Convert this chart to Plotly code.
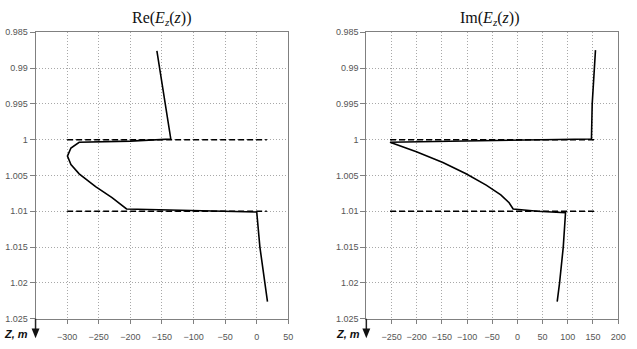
import plotly.graph_objects as go

# Re(Ez(z)) curve
re_x = [-158, -152, -145, -139, -136, -200, -281, -294, -299.5, -294, -281, -255, -229, -206, -150, -50, 0, 5, 12.5, 17]
re_z = [0.9876, 0.991, 0.995, 0.998, 0.9999, 1.0002, 1.00036, 1.00117, 1.0023, 1.00347, 1.00477, 1.00657, 1.0081, 1.00967, 1.0098, 1.0100, 1.0101, 1.015, 1.02, 1.0226]
# Im(Ez(z)) curve
im_x = [155, 151, 148.5, 147, -50, -253, -200.6, -148, -102, -62, -33, -16.5, -8.5, 40, 95.5, 91, 83.7, 79]
im_z = [0.9875, 0.992, 0.995, 0.9999, 1.0001, 1.00036, 1.0017, 1.0032, 1.00477, 1.00635, 1.0077, 1.0088, 1.00967, 1.0100, 1.0102, 1.015, 1.02, 1.0226]
# boundaries (dashed)
bound_z = [1.0, 1.01]
re_bound_x = [-300, 16]
im_bound_x = [-253, 155]

z_ticks = [0.985, 0.99, 0.995, 1.0, 1.005, 1.01, 1.015, 1.02, 1.025]
z_ticktext = ["0.985", "0.99", "0.995", "1", "1.005", "1.01", "1.015", "1.02", "1.025"]
re_ticks = [-300, -250, -200, -150, -100, -50, 0, 50]
im_ticks = [-250, -200, -150, -100, -50, 0, 50, 100, 150, 200]

fig = go.Figure()
fig.add_trace(go.Scatter(x=re_x, y=re_z, mode="lines", line=dict(color="black", width=1.6),
                         xaxis="x", yaxis="y", showlegend=False, hoverinfo="skip"))
fig.add_trace(go.Scatter(x=im_x, y=im_z, mode="lines", line=dict(color="black", width=1.6),
                         xaxis="x2", yaxis="y2", showlegend=False, hoverinfo="skip"))
for zb in bound_z:
    fig.add_trace(go.Scatter(x=re_bound_x, y=[zb, zb], mode="lines",
                             line=dict(color="black", width=1.5, dash="6px,3px"),
                             xaxis="x", yaxis="y", showlegend=False, hoverinfo="skip"))
    fig.add_trace(go.Scatter(x=im_bound_x, y=[zb, zb], mode="lines",
                             line=dict(color="black", width=1.5, dash="6px,3px"),
                             xaxis="x2", yaxis="y2", showlegend=False, hoverinfo="skip"))

W, H = 637, 349
dom_y = [1 - 323 / H, 1 - 28 / H]
tickfont = dict(family="Liberation Sans, Arial", size=9, color="#555")

common_x = dict(showgrid=True, gridcolor="#a8a8a8", griddash="1px,2px", gridwidth=1,
                showline=True, linecolor="#808080", linewidth=1, mirror=True,
                zeroline=False, ticks="outside", ticklen=4, tickcolor="#808080",
                ticklabelstandoff=5, tickfont=tickfont, fixedrange=True)
common_y = dict(showgrid=True, gridcolor="#a8a8a8", griddash="1px,2px", gridwidth=1,
                showline=True, linecolor="#808080", linewidth=1, mirror=True,
                zeroline=False, ticks="outside", ticklen=5, tickcolor="#808080",
                tickfont=tickfont, range=[1.025, 0.985], fixedrange=True,
                tickvals=z_ticks, ticktext=z_ticktext, domain=dom_y)

fig.update_layout(
    width=W, height=H,
    margin=dict(l=0, r=0, t=0, b=0),
    paper_bgcolor="white", plot_bgcolor="white",
    hovermode=False,
    xaxis=dict(common_x, domain=[36 / W, 292 / W], range=[-350, 50], tickvals=re_ticks, anchor="y"),
    yaxis=dict(common_y, anchor="x"),
    xaxis2=dict(common_x, domain=[371 / W, 626 / W], range=[-300, 200], tickvals=im_ticks, anchor="y2"),
    yaxis2=dict(common_y, anchor="x2"),
)

title_font = dict(family="Liberation Serif, DejaVu Serif, serif", size=16, color="#111")
fig.add_annotation(text="Re(<i>E<sub>z</sub></i>(<i>z</i>))", x=164 / W, y=1 - 14 / H,
                   xref="paper", yref="paper", xanchor="center", yanchor="middle",
                   showarrow=False, font=title_font)
fig.add_annotation(text="Im(<i>E<sub>z</sub></i>(<i>z</i>))", x=496 / W, y=1 - 14 / H,
                   xref="paper", yref="paper", xanchor="center", yanchor="middle",
                   showarrow=False, font=title_font)

label_font = dict(family="Liberation Sans, Arial", size=11, color="#111")
for ax_px, lab_px in [(36, 16), (371, 352)]:
    fig.add_annotation(text="<b><i>Z, m</i></b>", x=lab_px / W, y=1 - 339 / H,
                       xref="paper", yref="paper", xanchor="center", yanchor="middle",
                       showarrow=False, font=label_font)
    fig.add_shape(type="line", xref="paper", yref="paper",
                  x0=ax_px / W, x1=ax_px / W, y0=1 - 323 / H, y1=1 - 336 / H,
                  line=dict(color="#222", width=1.5))
    fig.add_shape(type="path", xref="paper", yref="paper",
                  path=f"M {(ax_px - 4) / W} {1 - 333 / H} L {(ax_px + 4) / W} {1 - 333 / H} L {ax_px / W} {1 - 343 / H} Z",
                  fillcolor="#111", line=dict(color="#111", width=0))

fig.write_html("out.html", config={"displayModeBar": False},
               post_script="document.body.style.margin='0px';document.body.style.padding='0px';")
